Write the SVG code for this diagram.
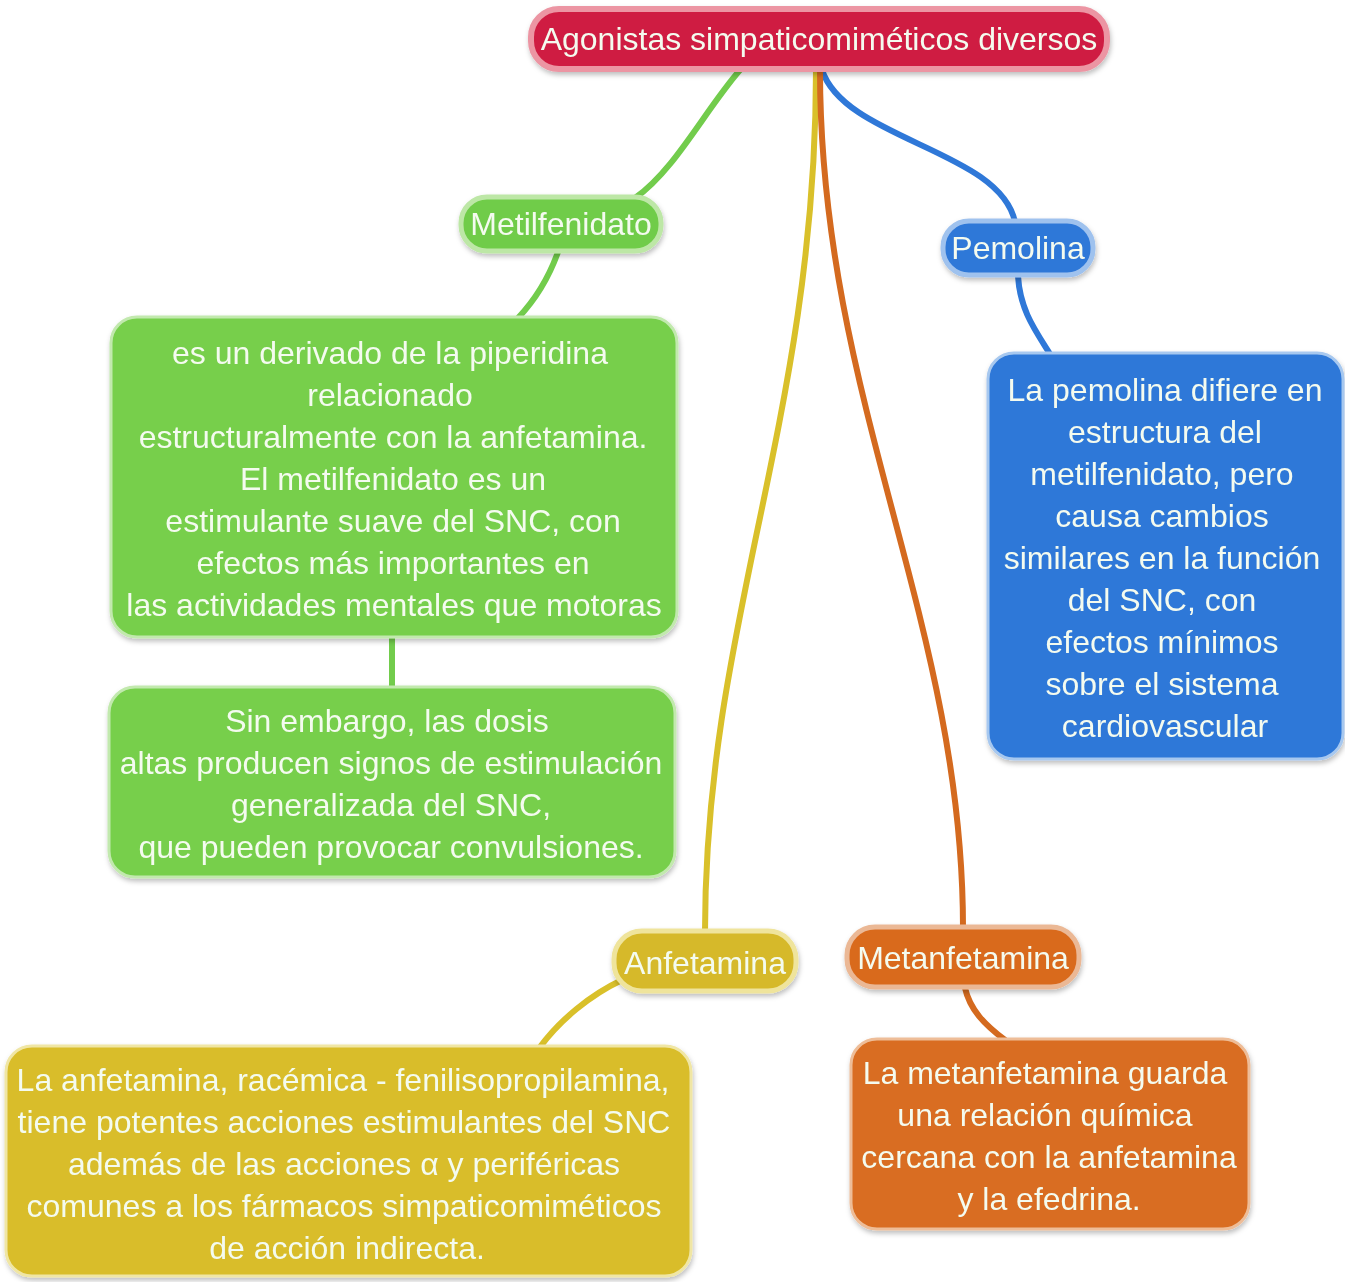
<svg xmlns="http://www.w3.org/2000/svg" width="1345" height="1282" viewBox="0 0 1345 1282">
<defs>
<filter id="sh" x="-10%" y="-10%" width="120%" height="130%">
<feDropShadow dx="1" dy="3" stdDeviation="2.5" flood-color="#000" flood-opacity="0.25"/>
</filter>
</defs>
<style>
text{font-family:"Liberation Sans",Arial,sans-serif;text-anchor:middle;fill:#f4fbef}
.t{font-size:32px}
.b{font-size:32px}
.c{fill:none;stroke-width:6;stroke-linecap:round}
.n{filter:url(#sh)}
</style>
<rect width="1345" height="1282" fill="#ffffff"/>
<g id="connectors">
<path class="c" stroke="#72cc4c" d="M740,70 C705,110 675,170 635,198"/>
<path class="c" stroke="#72cc4c" d="M558,252 C548,280 535,300 518,318"/>
<path class="c" stroke="#72cc4c" d="M392,638 L392,688"/>
<path class="c" stroke="#2f78d8" d="M822,70 C845,140 1000,150 1015,222"/>
<path class="c" stroke="#2f78d8" d="M1018,276 C1020,310 1035,330 1050,354"/>
<path class="c" stroke="#d9c02a" d="M816,70 C816,420 705,620 705,932"/>
<path class="c" stroke="#d46a1f" d="M820,70 C820,400 963,620 963,928"/>
<path class="c" stroke="#d9c02a" d="M622,980 C590,995 560,1020 540,1047"/>
<path class="c" stroke="#d46a1f" d="M965,988 C970,1010 985,1025 1005,1040"/>
</g>
<g id="root" class="n">
<rect x="531" y="9" width="576" height="60" rx="28" fill="#cf1e42" stroke="#ec95a3" stroke-width="6"/>
<text class="t" x="819" y="50">Agonistas simpaticomiméticos diversos</text>
</g>
<g id="metilfenidato" class="n">
<rect x="461" y="197" width="200" height="54" rx="26" fill="#70cc4a" stroke="#bde7a6" stroke-width="5"/>
<text class="t" x="561" y="235">Metilfenidato</text>
</g>
<g id="pemolina" class="n">
<rect x="943" y="221" width="150" height="54" rx="26" fill="#2f78d8" stroke="#9fc2ee" stroke-width="5"/>
<text class="t" x="1018" y="259">Pemolina</text>
</g>
<g id="metil-desc1" class="n">
<rect x="111" y="317" width="566" height="320" rx="26" fill="#77cf4c" stroke="#c2e9ae" stroke-width="3"/>
<text class="b" x="390" y="364">es un derivado de la piperidina</text>
<text class="b" x="390" y="406">relacionado</text>
<text class="b" x="393" y="448">estructuralmente con la anfetamina.</text>
<text class="b" x="393" y="490">El metilfenidato es un</text>
<text class="b" x="393" y="532">estimulante suave del SNC, con</text>
<text class="b" x="393" y="574">efectos más importantes en</text>
<text class="b" x="394" y="616">las actividades mentales que motoras</text>
</g>
<g id="metil-desc2" class="n">
<rect x="109" y="687" width="566" height="190" rx="26" fill="#77cf4c" stroke="#c2e9ae" stroke-width="3"/>
<text class="b" x="387" y="732">Sin embargo, las dosis</text>
<text class="b" x="391" y="774">altas producen signos de estimulación</text>
<text class="b" x="391" y="816">generalizada del SNC,</text>
<text class="b" x="391" y="858">que pueden provocar convulsiones.</text>
</g>
<g id="pemolina-desc" class="n">
<rect x="988" y="353" width="355" height="406" rx="26" fill="#2f78d8" stroke="#a7c8ef" stroke-width="3"/>
<text class="b" x="1165" y="401">La pemolina difiere en</text>
<text class="b" x="1165" y="443">estructura del</text>
<text class="b" x="1162" y="485">metilfenidato, pero</text>
<text class="b" x="1162" y="527">causa cambios</text>
<text class="b" x="1162" y="569">similares en la función</text>
<text class="b" x="1162" y="611">del SNC, con</text>
<text class="b" x="1162" y="653">efectos mínimos</text>
<text class="b" x="1162" y="695">sobre el sistema</text>
<text class="b" x="1165" y="737">cardiovascular</text>
</g>
<g id="anfetamina" class="n">
<rect x="614" y="931" width="182" height="60" rx="28" fill="#d6b92a" stroke="#efe49c" stroke-width="5"/>
<text class="t" x="705" y="974">Anfetamina</text>
</g>
<g id="metanfetamina" class="n">
<rect x="847" y="927" width="232" height="60" rx="28" fill="#d96a1f" stroke="#ebb895" stroke-width="5"/>
<text class="t" x="963" y="969">Metanfetamina</text>
</g>
<g id="anfetamina-desc" class="n">
<rect x="6" y="1046" width="685" height="230" rx="26" fill="#d9bd2a" stroke="#f0e6a4" stroke-width="3"/>
<text class="b" x="343" y="1091">La anfetamina, racémica - fenilisopropilamina,</text>
<text class="b" x="344" y="1133">tiene potentes acciones estimulantes del SNC</text>
<text class="b" x="344" y="1175">además de las acciones α y periféricas</text>
<text class="b" x="344" y="1217">comunes a los fármacos simpaticomiméticos</text>
<text class="b" x="347" y="1259">de acción indirecta.</text>
</g>
<g id="metanfetamina-desc" class="n">
<rect x="851" y="1039" width="398" height="190" rx="26" fill="#d96d20" stroke="#eebd98" stroke-width="3"/>
<text class="b" x="1045" y="1084">La metanfetamina guarda</text>
<text class="b" x="1045" y="1126">una relación química</text>
<text class="b" x="1049" y="1168">cercana con la anfetamina</text>
<text class="b" x="1049" y="1210">y la efedrina.</text>
</g>
</svg>
